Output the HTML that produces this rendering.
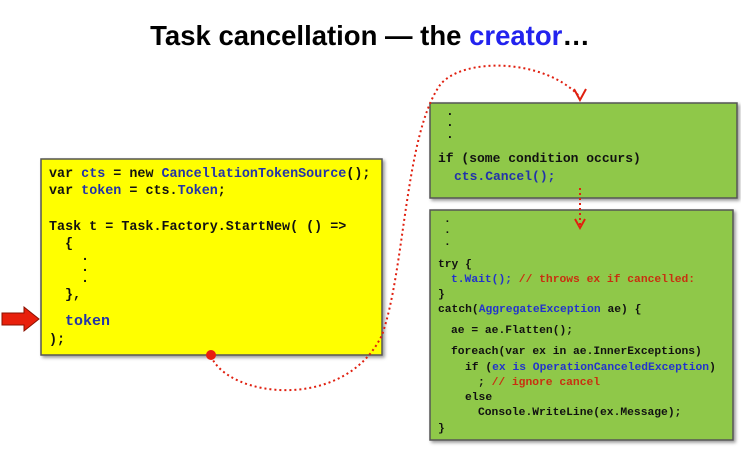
<!DOCTYPE html>
<html><head><meta charset="utf-8"><style>
body{margin:0;background:#fff;width:741px;height:455px;overflow:hidden}
svg{display:block}
.m{font-family:"Liberation Mono",monospace;font-weight:bold}
</style></head><body>
<svg width="741" height="455" viewBox="0 0 741 455">
<defs><filter id="s" x="-5%" y="-5%" width="115%" height="115%"><feDropShadow dx="2" dy="2" stdDeviation="1.5" flood-opacity="0.4"/></filter></defs>
<text x="370" y="45" text-anchor="middle" font-family="Liberation Sans,sans-serif" font-weight="bold" font-size="27.5" fill="#000">Task cancellation — the <tspan fill="#2222ee">creator</tspan>…</text>

<rect x="41" y="159" width="341" height="196" fill="#ffff00" stroke="#555" stroke-width="1.5" filter="url(#s)"/>
<g class="m" font-size="13.4" fill="#111">
<text x="49" y="177">var <tspan fill="#2233aa">cts</tspan> = new <tspan fill="#2233aa">CancellationTokenSource</tspan>();</text>
<text x="49" y="194">var <tspan fill="#2233aa">token</tspan> = cts.<tspan fill="#2233aa">Token</tspan>;</text>
<text x="49" y="230">Task t = Task.Factory.StartNew( () =&gt;</text>
<text x="65" y="247">{</text>
<text x="81" y="260">.</text><text x="81" y="271">.</text><text x="81" y="282">.</text>
<text x="65" y="298">},</text>
<text x="65" y="325" font-size="15" fill="#2233aa">token</text>
<text x="49" y="343">);</text>
</g>
<path d="M2,313 H24 V307 L39,319 L24,331 V325 H2 Z" fill="#e8200c" stroke="#8a1000" stroke-width="1"/>

<rect x="430" y="103" width="307" height="95" fill="#8fc84a" stroke="#555" stroke-width="1.5" filter="url(#s)"/>
<g class="m" font-size="13" fill="#111">
<text x="446" y="115">.</text><text x="446" y="126">.</text><text x="446" y="138">.</text>
<text x="438" y="162">if (some condition occurs)</text>
<text x="454" y="180" fill="#2233aa">cts.Cancel();</text>
</g>

<rect x="430" y="210" width="303" height="230" fill="#8fc84a" stroke="#555" stroke-width="1.5" filter="url(#s)"/>
<g class="m" font-size="11.3" fill="#111">
<text x="444" y="222">.</text><text x="444" y="233">.</text><text x="444" y="245">.</text>
<text x="438" y="267">try {</text>
<text x="451" y="282"><tspan fill="#2233cc">t.Wait();</tspan>  <tspan fill="#c83010">// throws ex if cancelled:</tspan></text>
<text x="438" y="297">}</text>
<text x="438" y="312">catch(<tspan fill="#2233cc">AggregateException</tspan> ae) {</text>
<text x="451" y="333">ae = ae.Flatten();</text>
<text x="451" y="354">foreach(var ex in ae.InnerExceptions)</text>
<text x="465" y="370">if (<tspan fill="#2233cc">ex is OperationCanceledException</tspan>)</text>
<text x="478" y="385">;  <tspan fill="#c83010">// ignore cancel</tspan></text>
<text x="465" y="400">else</text>
<text x="478" y="415">Console.WriteLine(ex.Message);</text>
<text x="438" y="431">}</text>
</g>

<g fill="none" stroke="#e02010" stroke-width="2" stroke-dasharray="2 3">
<path d="M211,356 C228,398 345,412 382,335 C405,270 405,135 440,85 C462,57 545,58 580,97"/>
<path d="M580,188 V226"/>
</g>
<path d="M574,89 L580,100 L586,89" fill="none" stroke="#e02010" stroke-width="2"/>
<path d="M575,219 L580,228 L585,219" fill="none" stroke="#e02010" stroke-width="2"/>
<circle cx="211" cy="355" r="5" fill="#e81e10"/>
</svg>
</body></html>
